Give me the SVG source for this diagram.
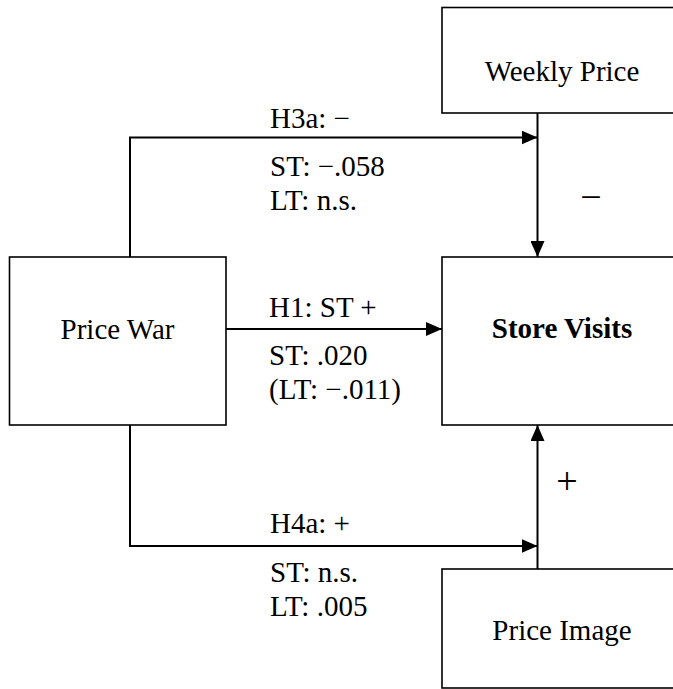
<svg xmlns="http://www.w3.org/2000/svg" width="673" height="689" viewBox="0 0 673 689">
<defs>
<marker id="arrow" markerUnits="userSpaceOnUse" markerWidth="16" markerHeight="14" refX="16" refY="7" orient="auto">
<path d="M0,0 L16,7 L0,14 z" fill="#000"/>
</marker>
<style>
.box{fill:#fff;stroke:#000;stroke-width:1.6}
text{font-family:'Liberation Serif','Times New Roman','DejaVu Serif',serif;font-size:29px;fill:#000}
.c{text-anchor:middle}
.b{font-weight:bold}
.s{font-size:38px}
.conn{fill:none;stroke:#000;stroke-width:2}
</style>
</defs>
<rect width="673" height="689" fill="#fff"/>
<g id="connectors">
<path class="conn" d="M130,257 V137.5 H537.5" marker-end="url(#arrow)"/>
<path class="conn" d="M537.5,113 V257" marker-end="url(#arrow)"/>
<path class="conn" d="M226,329 H442" marker-end="url(#arrow)"/>
<path class="conn" d="M130,425 V546 H537.5" marker-end="url(#arrow)"/>
<path class="conn" d="M537.5,569 V425" marker-end="url(#arrow)"/>
<text x="270" y="128">H3a: −</text>
<text x="270" y="176">ST: −.058</text>
<text x="270" y="210">LT: n.s.</text>
<text x="269" y="317">H1: ST +</text>
<text x="269" y="365">ST: .020</text>
<text x="269" y="399">(LT: −.011)</text>
<text x="270" y="533">H4a: +</text>
<text x="270" y="582">ST: n.s.</text>
<text x="270" y="616">LT: .005</text>
<text class="c s" x="591" y="210">−</text>
<text class="c s" x="567" y="494">+</text>
</g>
<g id="weekly-price">
<rect class="box" x="442" y="7.5" width="240" height="105.5"/>
<text class="c" x="562" y="81">Weekly Price</text>
</g>
<g id="price-war">
<rect class="box" x="9.5" y="257" width="216.5" height="168"/>
<text class="c" x="117.5" y="339">Price War</text>
</g>
<g id="store-visits">
<rect class="box" x="442" y="257" width="240" height="168"/>
<text class="c b" x="562" y="338">Store Visits</text>
</g>
<g id="price-image">
<rect class="box" x="442" y="569" width="240" height="119"/>
<text class="c" x="562" y="640">Price Image</text>
</g>
</svg>
